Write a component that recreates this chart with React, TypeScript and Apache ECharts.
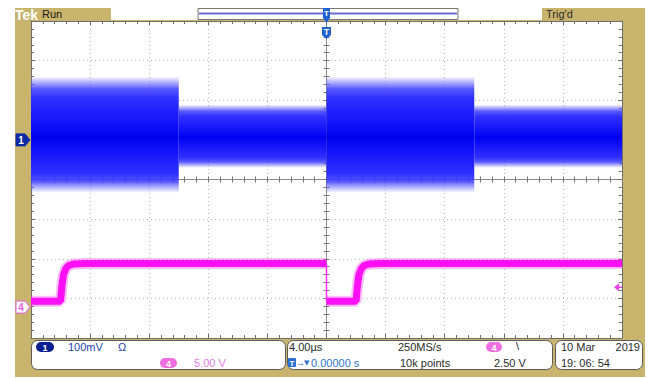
import React, { useEffect, useRef } from "react";
import * as echarts from "echarts";

// ---- scope settings ----
const timeMin = -20; // µs
const timeMax = 20;
const timePerDiv = 4;
const halfDivs = 4;

// Channel 1 envelope segments (persistence band), mV
const ch1SegStart = [-20, -10, 0, 10];
const ch1SegEnd = [-10, 0, 10, 20];
const ch1SegMin = [-132, -70, -132, -70];
const ch1SegMax = [158, 88, 158, 88];
const ch1Scale = 100; // mV/div
const ch1Position = 1; // div

// Channel 4 trace, V
const ch4Time = [-20, -18.0, -17.9, -17.8, -17.65, -17.45, -17.1, -16.4, 0, 0, 2.0, 2.1, 2.2, 2.35, 2.55, 2.9, 3.6, 20];
const ch4Volts = [0.75, 0.75, 2.8, 4.1, 4.85, 5.25, 5.45, 5.5, 5.5, 0.75, 0.75, 2.8, 4.1, 4.85, 5.25, 5.45, 5.5, 5.5];
const ch4Scale = 5; // V/div
const ch4Position = -3.22; // div
const trigLevel = 2.5; // V

const FONT = "Liberation Sans, Arial, sans-serif";
const TAN = "#c8b46c";

export default function App() {
  const ref = useRef<HTMLDivElement>(null);
  useEffect(() => {
    if (!ref.current) return;
    const chart = echarts.init(ref.current, null, { renderer: "svg" });
    const plot = { left: 31, top: 21, width: 591, height: 317, outerBoundsMode: "none" };
    const grids = [0, 1, 2, 3, 4].map(() => ({ ...plot }));
    const borderCol = "#6e6e6e";
    const borderAxisX = (pos: string, split: boolean) => ({
      gridIndex: 0, type: "value", min: timeMin, max: timeMax, interval: timePerDiv, position: pos,
      axisLine: { show: true, onZero: false, lineStyle: { color: borderCol, width: 1 } },
      axisTick: { show: true, inside: true, length: 4, lineStyle: { color: borderCol } },
      minorTick: { show: true, splitNumber: 5, length: 3, lineStyle: { color: borderCol } },
      axisLabel: { show: false },
      splitLine: { show: split, lineStyle: { color: "#b8b8b8", type: [1, 3] } },
    });
    const borderAxisY = (pos: string, split: boolean) => ({
      gridIndex: 0, type: "value", min: -halfDivs, max: halfDivs, interval: 1, position: pos,
      axisLine: { show: true, onZero: false, lineStyle: { color: borderCol, width: 1 } },
      axisTick: { show: true, inside: true, length: 4, lineStyle: { color: borderCol } },
      minorTick: { show: true, splitNumber: 5, length: 3, lineStyle: { color: borderCol } },
      axisLabel: { show: false },
      splitLine: { show: split, lineStyle: { color: "#b8b8b8", type: [1, 3] } },
    });
    const hiddenX = (g: number) => ({ gridIndex: g, type: "value", min: timeMin, max: timeMax, show: false });
    const centerX = (g: number, inside: boolean) => ({
      gridIndex: g, type: "value", min: timeMin, max: timeMax, interval: timePerDiv,
      axisLine: { show: true, onZero: true, lineStyle: { color: "#8a8a8a", width: 1 } },
      axisTick: { show: true, inside, length: 3, lineStyle: { color: "#777" } },
      minorTick: { show: true, splitNumber: 5, length: 3, lineStyle: { color: "#777" } },
      axisLabel: { show: false }, splitLine: { show: false },
    });
    const centerY = (g: number, inside: boolean) => ({
      gridIndex: g, type: "value", min: -halfDivs, max: halfDivs, interval: 1,
      axisLine: { show: true, onZero: true, lineStyle: { color: "#8a8a8a", width: 1 } },
      axisTick: { show: true, inside, length: 3, lineStyle: { color: "#777" } },
      minorTick: { show: true, splitNumber: 5, length: 3, lineStyle: { color: "#777" } },
      axisLabel: { show: false }, splitLine: { show: false },
    });

    const ch1Data = ch1SegStart.map((s, i) => [s, ch1SegEnd[i], ch1SegMin[i], ch1SegMax[i]]);

    // ch4: thick level segments, thin vertical edges where time repeats
    const ch4Main: any[] = [];
    const ch4Edges: any[] = [];
    for (let i = 0; i < ch4Time.length; i++) {
      if (i > 0 && ch4Time[i] === ch4Time[i - 1]) {
        ch4Main.push("-");
        ch4Edges.push([ch4Time[i - 1], ch4Volts[i - 1]], [ch4Time[i], ch4Volts[i]], "-");
      }
      ch4Main.push([ch4Time[i], ch4Volts[i]]);
    }

    const blueStops = [
      { offset: 0, color: "rgba(110,110,255,0.10)" },
      { offset: 0.04, color: "rgba(90,90,255,0.45)" },
      { offset: 0.1, color: "rgba(60,60,255,0.85)" },
      { offset: 0.18, color: "#3030ff" },
      { offset: 0.38, color: "#1515fa" },
      { offset: 0.52, color: "#0000f0" },
      { offset: 0.66, color: "#1515fa" },
      { offset: 0.84, color: "#3030ff" },
      { offset: 0.91, color: "rgba(60,60,255,0.85)" },
      { offset: 0.96, color: "rgba(90,90,255,0.45)" },
      { offset: 1, color: "rgba(110,110,255,0.10)" },
    ];

    const option: any = {
      animation: false,
      backgroundColor: "transparent",
      grid: grids,
      xAxis: [borderAxisX("bottom", true), borderAxisX("top", false), hiddenX(1), hiddenX(2), centerX(3, false), centerX(4, true)],
      yAxis: [
        borderAxisY("left", true),
        borderAxisY("right", false),
        { gridIndex: 1, type: "value", show: false, min: (-halfDivs - ch1Position) * ch1Scale, max: (halfDivs - ch1Position) * ch1Scale },
        { gridIndex: 2, type: "value", show: false, min: (-halfDivs - ch4Position) * ch4Scale, max: (halfDivs - ch4Position) * ch4Scale },
        centerY(3, false),
        centerY(4, true),
      ],
      series: [
        {
          type: "custom", xAxisIndex: 2, yAxisIndex: 2, data: ch1Data,
          encode: { x: [0, 1], y: [2, 3] }, z: 3,
          renderItem: (params: any, api: any) => {
            const p1 = api.coord([api.value(0), api.value(3)]);
            const p2 = api.coord([api.value(1), api.value(2)]);
            return {
              type: "rect",
              shape: { x: p1[0], y: p1[1], width: p2[0] - p1[0], height: p2[1] - p1[1] },
              style: { fill: { type: "linear", x: 0, y: 0, x2: 0, y2: 1, colorStops: blueStops } },
            };
          },
        },
        {
          type: "line", xAxisIndex: 3, yAxisIndex: 3, data: ch4Main, showSymbol: false, z: 4,
          lineStyle: { color: "rgba(255,60,255,0.35)", width: 11, cap: "butt" }, connectNulls: false,
        },
        {
          type: "line", xAxisIndex: 3, yAxisIndex: 3, data: ch4Main, showSymbol: false, z: 5,
          lineStyle: { color: "#ff10f4", width: 7, cap: "butt" }, connectNulls: false,
        },
        {
          type: "line", xAxisIndex: 3, yAxisIndex: 3, data: ch4Edges, showSymbol: false, z: 5,
          lineStyle: { color: "#ff30f4", width: 1.5 }, connectNulls: false,
        },
      ],
    };
    chart.setOption(option);

    const c1 = chart.convertToPixel({ xAxisIndex: 2, yAxisIndex: 2 }, [timeMin, 0]) as number[];
    const c4 = chart.convertToPixel({ xAxisIndex: 3, yAxisIndex: 3 }, [timeMin, 0]) as number[];
    const tl = chart.convertToPixel({ xAxisIndex: 3, yAxisIndex: 3 }, [timeMax, trigLevel]) as number[];
    const tz = chart.convertToPixel({ xAxisIndex: 3, yAxisIndex: 3 }, [0, 0]) as number[];
    const tx = tz[0];

    const txt = (text: string, x: number, y: number, fill: string, extra: any = {}) => ({
      type: "text", x, y, z: 20,
      style: { text, fill, font: `11px ${FONT}`, verticalAlign: "middle", align: "left", ...extra },
    });
    const pill = (x: number, y: number, w: number, h: number, fill: string, label: string, labelColor = "#fff") => [
      { type: "rect", z: 19, shape: { x, y, width: w, height: h, r: h / 2 }, style: { fill } },
      txt(label, x + w / 2, y + h / 2 + 0.5, labelColor, { align: "center", font: `bold 9px ${FONT}` }),
    ];
    const pent = (y: number, fill: string, stroke: string, label: string, labelColor: string) => [
      {
        type: "polygon", z: 19,
        shape: { points: [[16, y - 6], [25, y - 6], [30, y], [25, y + 6], [16, y + 6]] },
        style: { fill, stroke, lineWidth: 1 },
      },
      txt(label, 21, y + 0.5, labelColor, { align: "center", font: `bold 10px ${FONT}` }),
    ];

    const elements: any[] = [
      // frame
      { type: "rect", z: -10, shape: { x: 15, y: 8, width: 630, height: 369 }, style: { fill: TAN } },
      { type: "rect", z: -9, shape: { x: 31, y: 21, width: 591, height: 317 }, style: { fill: "#ffffff" } },
      // top bar
      txt("Tek", 15, 14.5, "#ffffff", { font: `bold 14px ${FONT}` }),
      txt("Run", 42, 14, "#1a1a1a", { font: `11px ${FONT}` }),
      { type: "rect", z: 5, shape: { x: 111, y: 8, width: 431, height: 12 }, style: { fill: "#ffffff" } },
      { type: "rect", z: 6, shape: { x: 198, y: 8.5, width: 260, height: 11 }, style: { fill: "#ffffff", stroke: "#777", lineWidth: 1 } },
      { type: "line", z: 7, shape: { x1: 199, y1: 13.5, x2: 457, y2: 13.5 }, style: { stroke: "#6a6ad4", lineWidth: 2 } },
      txt("Trig'd", 546, 14, "#2a2a2a", { font: `11px ${FONT}` }),
      // trigger position markers
      { type: "rect", z: 20, shape: { x: tx - 3.5, y: 8, width: 7, height: 10, r: 1 }, style: { fill: "#1f62cf" } },
      txt("T", tx, 13, "#ffffff", { align: "center", font: `bold 8px ${FONT}` }),
      { type: "polygon", z: 20, shape: { points: [[tx - 4, 17], [tx + 4, 17], [tx, 23]] }, style: { fill: "#1f62cf" } },
      { type: "polygon", z: 20, shape: { points: [[tx - 4.5, 27], [tx + 4.5, 27], [tx + 4.5, 35], [tx, 39], [tx - 4.5, 35]] }, style: { fill: "#1f62cf" } },
      txt("T", tx, 32, "#ffffff", { align: "center", font: `bold 9px ${FONT}` }),
      // channel markers
      ...pent(c1[1], "#0c2aa6", "#0c2aa6", "1", "#ffffff"),
      ...pent(c4[1], "#ffffff", "#e060e0", "4", "#e060e0"),
      // trigger level arrow
      { type: "polygon", z: 20, shape: { points: [[tl[0] - 8, tl[1]], [tl[0] - 3, tl[1] - 4], [tl[0] - 3, tl[1] + 4]] }, style: { fill: "#f040e8" } },
      { type: "line", z: 20, shape: { x1: tl[0] - 4, y1: tl[1], x2: tl[0], y2: tl[1] }, style: { stroke: "#f040e8", lineWidth: 1.5 } },
      // status boxes
      { type: "rect", z: 10, shape: { x: 31.5, y: 340.5, width: 254, height: 29, r: 6 }, style: { fill: "#ffffff", stroke: "#5a5a5a", lineWidth: 1 } },
      { type: "rect", z: 10, shape: { x: 287.5, y: 340.5, width: 265, height: 29, r: 6 }, style: { fill: "#ffffff", stroke: "#5a5a5a", lineWidth: 1 } },
      { type: "rect", z: 10, shape: { x: 555.5, y: 340.5, width: 87, height: 29, r: 6 }, style: { fill: "#ffffff", stroke: "#5a5a5a", lineWidth: 1 } },
      ...pill(36, 342, 18, 10, "#0a1f8f", "1"),
      txt("100mV", 68, 347, "#2242a4"),
      txt("Ω", 118, 347, "#2242a4"),
      ...pill(160, 358, 17, 10, "#ee6ee0", "4"),
      txt("5.00 V", 194, 363, "#e37be3"),
      txt("4.00µs", 289, 347, "#2a2a2a"),
      { type: "rect", z: 19, shape: { x: 288, y: 358, width: 8, height: 9, r: 1 }, style: { fill: "#2d6fd0" } },
      txt("T", 292, 363, "#ffffff", { align: "center", font: `bold 8px ${FONT}` }),
      txt("→", 296, 362.5, "#2f74c8", { font: `9px ${FONT}` }),
      txt("▼", 304, 363, "#2f74c8", { font: `7px DejaVu Sans, sans-serif` }),
      txt("0.00000 s", 311, 363, "#2f74c8"),
      txt("250MS/s", 398, 347, "#2a2a2a"),
      txt("10k points", 400, 363, "#2a2a2a"),
      ...pill(486, 342, 16, 10, "#ee6ee0", "4"),
      txt("\\", 516, 346, "#2a2a2a"),
      txt("2.50 V", 494, 363, "#2a2a2a"),
      txt("10 Mar", 561, 347, "#2a2a2a"),
      txt("2019", 640, 347, "#2a2a2a", { align: "right" }),
      txt("19: 06: 54", 561, 363, "#2a2a2a"),
    ];
    chart.setOption({ graphic: [{ elements }] });
    return () => chart.dispose();
  }, []);
  return (
    <div
      ref={ref}
      style={{ position: "fixed", left: 0, top: 0, width: 649, height: 378, background: "#ffffff" }}
    />
  );
}
